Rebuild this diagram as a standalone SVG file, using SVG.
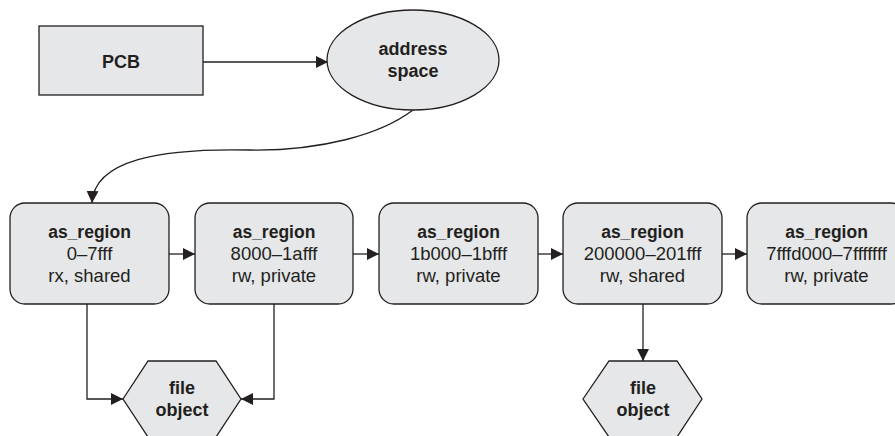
<svg xmlns="http://www.w3.org/2000/svg" width="895" height="436" viewBox="0 0 895 436">
<defs>
<style>
.shape{fill:#e6e7e8;stroke:#231f20;stroke-width:1.3}
.edge{fill:none;stroke:#231f20;stroke-width:1.3}
text{font-family:"Liberation Sans",Arial,Helvetica,sans-serif;fill:#231f20;text-anchor:middle}
.b{font-weight:bold;font-size:17.5px}
.r{font-size:18.5px}
</style>
<marker id="arr" viewBox="0 0 12 12" markerWidth="12" markerHeight="12" refX="12" refY="6" orient="auto" markerUnits="userSpaceOnUse">
<path d="M0,0 L12,6 L0,12 z" fill="#231f20"/>
</marker>
</defs>
<rect width="895" height="436" fill="#ffffff"/>
<g id="connectors">
<path class="edge" d="M203,62 L328,62" marker-end="url(#arr)"/>
<path class="edge" d="M413,110 C380,135 320,151 250,150 C160,148 94,160 92,203" marker-end="url(#arr)"/>
<path class="edge" d="M169,254 L195,254" marker-end="url(#arr)"/>
<path class="edge" d="M353,254 L379,254" marker-end="url(#arr)"/>
<path class="edge" d="M538,254 L563,254" marker-end="url(#arr)"/>
<path class="edge" d="M722,254 L747,254" marker-end="url(#arr)"/>
<path class="edge" d="M87,304 L87,399 L123,399" marker-end="url(#arr)"/>
<path class="edge" d="M274,304 L274,399 L241,399" marker-end="url(#arr)"/>
<path class="edge" d="M643,304 L643,361" marker-end="url(#arr)"/>
</g>
<g id="pcb">
<rect class="shape" x="39" y="26" width="164" height="69"/>
<text class="b" x="121" y="68" style="font-size:18px">PCB</text>
</g>
<g id="address-space">
<ellipse class="shape" cx="413" cy="60" rx="86" ry="50"/>
<text class="b" x="413" y="55" style="font-size:18px">address</text>
<text class="b" x="413" y="77" style="font-size:18px">space</text>
</g>
<g id="region1">
<rect class="shape" x="10" y="203" width="159" height="101" rx="15"/>
<text class="b" x="89.5" y="238">as_region</text>
<text class="r" x="89.5" y="260">0–7fff</text>
<text class="r" x="89.5" y="282">rx, shared</text>
</g>
<g id="region2">
<rect class="shape" x="195" y="203" width="158" height="101" rx="15"/>
<text class="b" x="274" y="238">as_region</text>
<text class="r" x="274" y="260">8000–1afff</text>
<text class="r" x="274" y="282">rw, private</text>
</g>
<g id="region3">
<rect class="shape" x="379" y="203" width="159" height="101" rx="15"/>
<text class="b" x="458.5" y="238">as_region</text>
<text class="r" x="458.5" y="260">1b000–1bfff</text>
<text class="r" x="458.5" y="282">rw, private</text>
</g>
<g id="region4">
<rect class="shape" x="563" y="203" width="159" height="101" rx="15"/>
<text class="b" x="642.5" y="238">as_region</text>
<text class="r" x="642.5" y="260">200000–201fff</text>
<text class="r" x="642.5" y="282">rw, shared</text>
</g>
<g id="region5">
<rect class="shape" x="747" y="203" width="159" height="101" rx="15"/>
<text class="b" x="826.5" y="238">as_region</text>
<text class="r" x="826.5" y="260">7fffd000–7fffffff</text>
<text class="r" x="826.5" y="282">rw, private</text>
</g>
<g id="file-object1">
<polygon class="shape" points="123,399 148,361 216,361 241,399 216,437 148,437"/>
<text class="b" x="182" y="394" style="font-size:18px">file</text>
<text class="b" x="182" y="416" style="font-size:18px">object</text>
</g>
<g id="file-object2">
<polygon class="shape" points="583,399 609,361 677,361 702,399 677,437 609,437"/>
<text class="b" x="643" y="394" style="font-size:18px">file</text>
<text class="b" x="643" y="416" style="font-size:18px">object</text>
</g>
</svg>
